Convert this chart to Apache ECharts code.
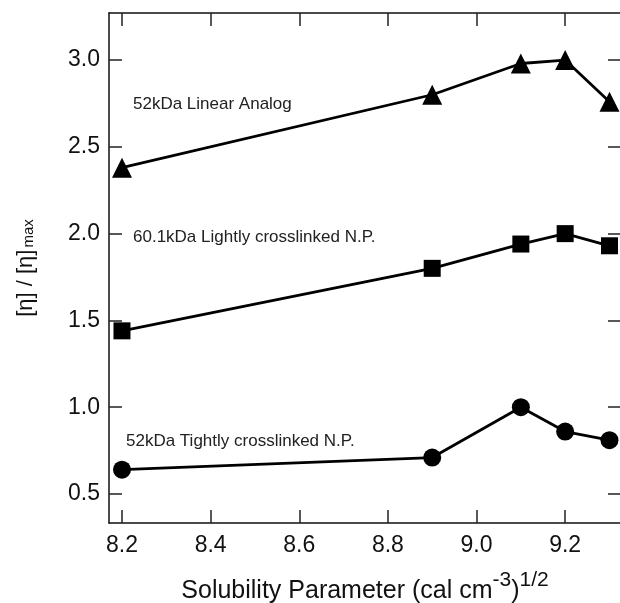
<!DOCTYPE html>
<html lang="en">
<head>
    <meta charset="UTF-8">
    <title>Solubility parameter</title>
    <style>
        html, body { margin: 0; padding: 0; background: #fff; }
        #chartmain { width: 620px; height: 603px; }
    </style>
</head>
<body>
    <div id="chartmain"></div>
    <script src="https://cdn.jsdelivr.net/npm/echarts@6/dist/echarts.min.js"></script>
    <script type="text/javascript">
        // solubility parameter values (x)
        var solubility = [8.2, 8.9, 9.1, 9.2, 9.3];
        var linearAnalog = [2.38, 2.80, 2.98, 3.00, 2.76];
        var lightlyNP = [1.44, 1.80, 1.94, 2.00, 1.93];
        var tightlyNP = [0.64, 0.71, 1.00, 0.86, 0.81];
        var xTicks = [8.2, 8.4, 8.6, 8.8, 9.0, 9.2];
        var yTicks = [0.5, 1.0, 1.5, 2.0, 2.5, 3.0];

        var font = 'Liberation Sans, Arial, sans-serif';
        var pairs = (ys) => solubility.map((x, i) => [x, ys[i]]);

        var mychart = echarts.init(document.getElementById('chartmain'));

        var baseAxis = {
            type: 'value',
            axisLine: { show: true, lineStyle: { color: '#111', width: 1.5 } },
            axisTick: { show: true, inside: true, length: 13, lineStyle: { color: '#222', width: 1.5 } },
            splitLine: { show: false }
        };
        var xRange = { min: 8.1707, max: 9.326 };
        var yRange = { min: 0.333, max: 3.271 };

        var series = [
            { name: 'linear', data: pairs(linearAnalog), symbol: 'triangle', symbolSize: 20 },
            { name: 'lightly', data: pairs(lightlyNP), symbol: 'rect', symbolSize: 17 },
            { name: 'tightly', data: pairs(tightlyNP), symbol: 'circle', symbolSize: 18 }
        ].map(s => Object.assign({
            type: 'line',
            xAxisIndex: 0,
            yAxisIndex: 0,
            lineStyle: { color: '#000', width: 2.8 },
            itemStyle: { color: '#000' },
            animation: false
        }, s));

        var option = {
            animation: false,
            grid: { left: 109, right: -1, top: 13, bottom: 80, outerBoundsMode: 'none' },
            xAxis: [
                Object.assign({}, baseAxis, xRange, {
                    position: 'bottom',
                    axisTick: Object.assign({}, baseAxis.axisTick, { customValues: xTicks }),
                    axisLabel: {
                        customValues: xTicks, color: '#111', fontSize: 23, fontFamily: font, margin: 11,
                        formatter: v => v.toFixed(1)
                    },
                    name: 'Solubility Parameter (cal cm{sup|-3}){sup|1/2}',
                    nameLocation: 'middle',
                    nameGap: 47,
                    nameTextStyle: {
                        color: '#111', fontSize: 25, fontFamily: font,
                        rich: { sup: { fontSize: 21, fontFamily: font, color: '#111', padding: [0, 0, 22, 0] } }
                    }
                }),
                Object.assign({}, baseAxis, xRange, {
                    position: 'top',
                    axisTick: Object.assign({}, baseAxis.axisTick, { customValues: xTicks }),
                    axisLabel: { show: false }
                })
            ],
            yAxis: [
                Object.assign({}, baseAxis, yRange, {
                    position: 'left',
                    axisTick: Object.assign({}, baseAxis.axisTick, { customValues: yTicks }),
                    axisLabel: {
                        customValues: yTicks, color: '#111', fontSize: 23, fontFamily: font, margin: 9,
                        formatter: v => v.toFixed(1)
                    },
                    name: '[η] / [η]{sub|max}',
                    nameLocation: 'middle',
                    nameRotate: 90,
                    nameGap: 72,
                    nameTextStyle: {
                        color: '#111', fontSize: 22, fontFamily: font,
                        rich: { sub: { fontSize: 15, fontFamily: font, color: '#111', padding: [6, 0, 0, 2] } }
                    }
                }),
                Object.assign({}, baseAxis, yRange, {
                    position: 'right',
                    axisTick: Object.assign({}, baseAxis.axisTick, { customValues: yTicks }),
                    axisLabel: { show: false }
                })
            ],
            graphic: [
                { type: 'text', left: 133, top: 96, style: { text: '52kDa Linear Analog', font: '17px ' + font, fill: '#222' } },
                { type: 'text', left: 133, top: 229, style: { text: '60.1kDa Lightly crosslinked N.P.', font: '17px ' + font, fill: '#222' } },
                { type: 'text', left: 126, top: 433, style: { text: '52kDa Tightly crosslinked N.P.', font: '17px ' + font, fill: '#222' } }
            ],
            series: series
        };
        mychart.setOption(option, true);
    </script>
</body>
</html>
